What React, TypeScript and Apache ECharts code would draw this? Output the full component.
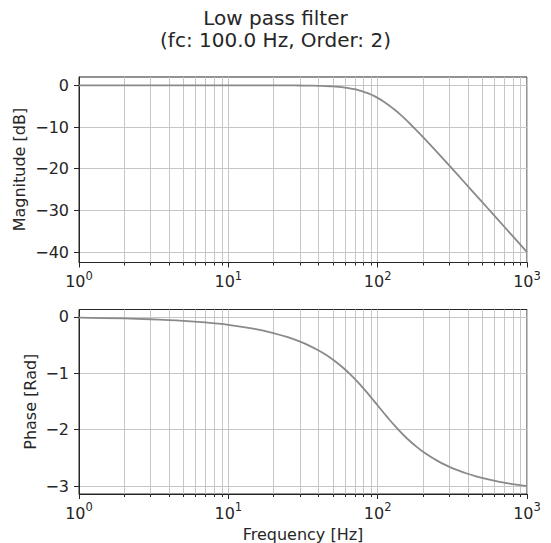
import React, { useEffect, useRef } from 'react';
import * as echarts from 'echarts';

const freqs = [1, 2, 3, 4, 5, 7, 10, 15, 20, 25, 30, 35, 40, 45, 50, 55, 60, 65, 70, 75, 80, 85, 90, 95, 100, 110, 120, 130, 140, 150, 160, 180, 200, 250, 300, 350, 400, 450, 500, 600, 700, 800, 900, 1000];
const magnitudeDb = [0, 0, 0, 0, 0, 0, -0.0004, -0.0022, -0.0069, -0.0169, -0.035, -0.0647, -0.110, -0.1745, -0.263, -0.3802, -0.530, -0.7133, -0.935, -1.194, -1.492, -1.8242, -2.191, -2.5876, -3.010, -3.916, -4.877, -5.861, -6.850, -7.8266, -8.782, -10.606, -12.304, -16.027, -19.138, -21.792, -24.099, -26.139, -27.966, -31.130, -33.806, -36.125, -38.170, -40.000];
const phaseRad = [-0.0141, -0.0283, -0.0424, -0.0566, -0.0708, -0.0992, -0.1419, -0.2137, -0.2866, -0.3606, -0.4360, -0.5136, -0.5926, -0.6735, -0.7558, -0.8398, -0.9248, -1.0099, -1.0950, -1.1796, -1.2628, -1.3439, -1.4226, -1.4983, -1.5708, -1.7050, -1.8245, -1.9298, -2.0223, -2.1033, -2.1745, -2.2924, -2.3858, -2.5490, -2.6538, -2.7271, -2.7810, -2.8223, -2.8550, -2.9037, -2.9382, -2.9639, -2.9838, -2.9997];
const minorFreqs = [2, 3, 4, 5, 6, 7, 8, 9, 20, 30, 40, 50, 60, 70, 80, 90, 200, 300, 400, 500, 600, 700, 800, 900];
const magTicks = [0, -10, -20, -30, -40];
const phaseTicks = [0, -1, -2, -3];

const titleLines = ['Low pass filter', '(fc: 100.0 Hz, Order: 2)'];

const FONT = 'DejaVu Sans';
const TEXT = '#262626';
const GRIDC = '#c6c6c6';
const CURVE = '#8a8a8a';

export default function App() {
  const ref = useRef<HTMLDivElement>(null);
  useEffect(() => {
    if (!ref.current) return;
    const chart = echarts.init(ref.current, undefined, { renderer: 'svg' });
    const magMin = -42.5, magMax = 2;
    const phMin = -3.14, phMax = 0.13;
    const fmtY = (v: number) => (v < 0 ? '\u2212' + Math.abs(v) : String(v));
    const xAxisBase = (gridIndex: number) => ({
      type: 'log',
      logBase: 10,
      min: 1,
      max: 1000,
      gridIndex,
      axisLine: { show: true, onZero: false, lineStyle: { color: TEXT, width: 1 } },
      axisTick: { show: true, length: 5, lineStyle: { color: TEXT, width: 1 } },
      splitLine: { show: true, lineStyle: { color: GRIDC, width: 1 } },
      axisLabel: {
        margin: 7,
        formatter: (v: number) => '{b|10}{s|' + Math.round(Math.log10(v)) + '}',
        rich: {
          b: { fontSize: 16, lineHeight: 20, verticalAlign: 'bottom', color: TEXT, fontFamily: FONT },
          s: { fontSize: 11.5, lineHeight: 12, verticalAlign: 'top', color: TEXT, fontFamily: FONT },
        },
      },
    });
    const yAxisBase = (gridIndex: number, min: number, max: number, ticks: number[]) => ({
      type: 'value',
      gridIndex,
      min,
      max,
      axisLine: { show: true, onZero: false, lineStyle: { color: TEXT, width: 1 } },
      axisTick: { show: true, length: 5, lineStyle: { color: TEXT, width: 1 }, customValues: ticks },
      splitLine: { show: true, lineStyle: { color: GRIDC, width: 1 } },
      axisLabel: {
        margin: 10,
        customValues: ticks,
        formatter: fmtY,
        fontSize: 16,
        color: TEXT,
        fontFamily: FONT,
      },
    });
    const minorSeries = (idx: number, ymin: number, ymax: number) => ({
      type: 'custom',
      xAxisIndex: idx,
      yAxisIndex: idx,
      silent: true,
      z: 1,
      clip: false,
      data: minorFreqs.map((f) => [f, ymin]),
      encode: { x: 0, y: 1 },
      renderItem: (params: any, api: any) => {
        const x = api.value(0);
        const top = api.coord([x, ymax]);
        const bot = api.coord([x, ymin]);
        const px = Math.round(top[0]) + 0.5;
        return {
          type: 'group',
          children: [
            { type: 'line', shape: { x1: px, y1: top[1], x2: px, y2: bot[1] }, style: { stroke: GRIDC, lineWidth: 1 } },
            { type: 'line', shape: { x1: px, y1: bot[1], x2: px, y2: bot[1] + 3 }, style: { stroke: TEXT, lineWidth: 1 } },
          ],
        };
      },
    });
    chart.setOption({
      animation: false,
      backgroundColor: '#ffffff',
      grid: [
        { left: 79, top: 77, width: 448, height: 185.5, show: true, borderColor: TEXT, borderWidth: 1, backgroundColor: 'transparent' },
        { left: 79, top: 309.5, width: 448, height: 184.5, show: true, borderColor: TEXT, borderWidth: 1, backgroundColor: 'transparent' },
      ],
      xAxis: [xAxisBase(0), xAxisBase(1)],
      yAxis: [yAxisBase(0, magMin, magMax, magTicks), yAxisBase(1, phMin, phMax, phaseTicks)],
      series: [
        minorSeries(0, magMin, magMax),
        minorSeries(1, phMin, phMax),
        {
          type: 'line',
          xAxisIndex: 0,
          yAxisIndex: 0,
          z: 5,
          showSymbol: false,
          symbol: 'none',
          smooth: 0.2,
          data: freqs.map((f, i) => [f, magnitudeDb[i]]),
          lineStyle: { color: CURVE, width: 1.8 },
        },
        {
          type: 'line',
          xAxisIndex: 1,
          yAxisIndex: 1,
          z: 5,
          showSymbol: false,
          symbol: 'none',
          smooth: 0.2,
          data: freqs.map((f, i) => [f, phaseRad[i]]),
          lineStyle: { color: CURVE, width: 1.8 },
        },
      ],
      graphic: [
        { type: 'text', x: 275.5, y: 18, style: { text: titleLines[0], fontSize: 20, fontFamily: FONT, fill: TEXT, align: 'center', verticalAlign: 'middle' } },
        { type: 'text', x: 275.5, y: 40, style: { text: titleLines[1], fontSize: 20, fontFamily: FONT, fill: TEXT, align: 'center', verticalAlign: 'middle' } },
        { type: 'text', x: 19.5, y: 169.6, rotation: Math.PI / 2, style: { text: 'Magnitude [dB]', fontSize: 16, fontFamily: FONT, fill: TEXT, align: 'center', verticalAlign: 'middle' } },
        { type: 'text', x: 30.5, y: 401.7, rotation: Math.PI / 2, style: { text: 'Phase [Rad]', fontSize: 16, fontFamily: FONT, fill: TEXT, align: 'center', verticalAlign: 'middle' } },
        { type: 'text', x: 303, y: 534, style: { text: 'Frequency [Hz]', fontSize: 16, fontFamily: FONT, fill: TEXT, align: 'center', verticalAlign: 'middle' } },
      ],
    });
    return () => chart.dispose();
  }, []);
  return <div ref={ref} style={{ position: 'fixed', left: 0, top: 0, width: 551, height: 543 }} />;
}
